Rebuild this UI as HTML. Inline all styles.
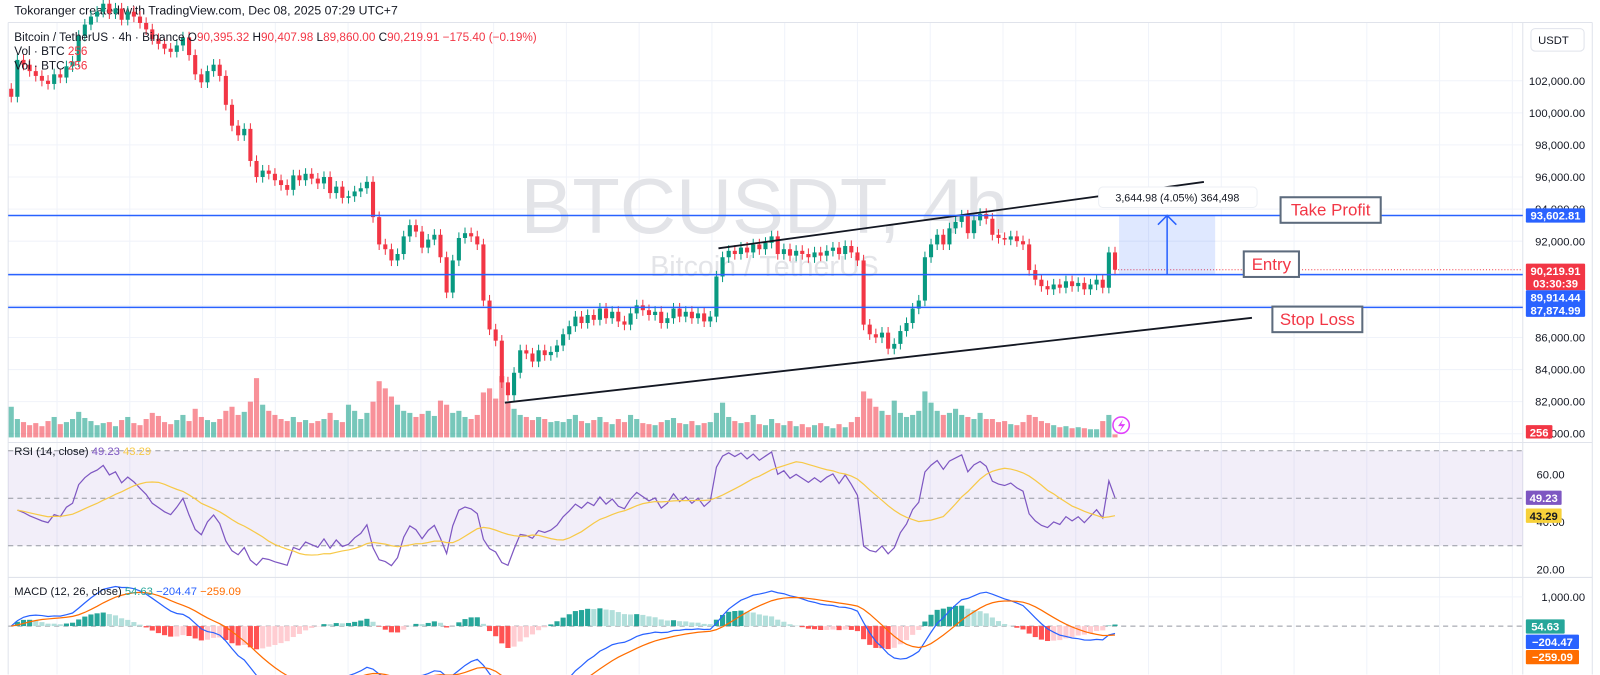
<!DOCTYPE html>
<html><head><meta charset="utf-8"><style>
html,body{margin:0;padding:0;background:#fff;}
svg{display:block;font-family:"Liberation Sans",sans-serif;}
</style></head><body>
<svg id="chart" width="1600" height="675" viewBox="0 0 1600 675" xmlns="http://www.w3.org/2000/svg">
<g id="root" transform="scale(1.022)"></g>
</svg>
<script>
const closes=[
101000,103300,103000,102600,102300,102000,101800,102400,102200,102900,
103200,104800,105500,106000,106300,106800,106200,106500,105800,106300,
106000,105600,105200,104600,104300,104000,103800,104200,104700,103600,
102400,101900,102600,103000,102300,100500,99200,98600,99000,97000,
96000,96400,96200,95800,95500,95200,96100,95800,96200,95900,
95600,96000,95000,95400,94700,94800,95100,95300,95700,93500,
91800,91500,90800,91200,92300,93000,92600,91600,92100,92400,
91000,88800,90800,92200,92500,92300,91800,88300,86500,85800,
83200,82400,83800,85200,85000,84500,85200,84900,85100,85500,
86200,86700,87300,86900,87400,87100,87800,87200,87600,87000,
86800,87500,88000,87700,87400,87600,86900,87200,87800,87300,
87600,87200,87500,87000,87300,89800,91000,91400,91200,91600,
91300,91800,91500,91900,92300,91200,91500,91100,91400,91200,
91000,91300,91100,91400,91600,91200,91700,91300,90800,86800,
86200,86000,86300,85300,85600,86400,86900,87800,88300,91000,
91800,92400,91800,92800,93200,93600,92500,93300,93700,93400,
92400,92200,92100,92300,92000,91800,90200,89600,89200,89000,
89300,89100,89500,89200,89400,89000,89300,89600,89100,91300,
90220];
const volumes=[
3000,1800,1500,1200,1400,1100,1600,2000,1300,1500,
1800,2500,1900,1600,1200,1400,1500,1100,1700,2000,
1400,1200,1800,2400,2100,1500,1300,1700,2200,1600,
2800,2000,1700,1500,1800,2600,3000,2200,2500,3500,
5800,3200,2600,2200,1800,1600,2000,1500,1700,1400,
1600,1800,2400,1700,1500,3200,2600,1800,2400,3500,
5500,4800,4000,3200,2600,2400,2000,2300,2600,2100,
3600,3200,2400,2600,2000,1800,2200,4400,4800,3800,
6000,3500,2800,2200,2000,1700,2000,1800,1500,1600,
1500,1800,2200,1600,1400,1700,2000,1500,1300,1800,
1500,2200,1800,1400,1300,1200,1500,1700,1900,1400,
1300,1600,1200,1400,1500,2400,3400,2000,1600,1400,
1500,2200,1300,1200,1800,1400,1200,1600,1100,1300,
1000,1200,1400,1100,900,1300,1000,1500,2000,4500,
3800,3000,2600,2200,3600,2400,2000,2200,2600,4500,
3400,2600,2200,2400,2800,2200,2000,1800,2400,1800,
1800,1500,1600,1300,1200,1500,2200,2000,1600,1400,
1200,1000,1100,900,1000,900,800,800,1600,2200,
300];
const priceTicks=[102000,100000,98000,96000,94000,92000,86000,84000,82000];
const rsiTicks=[60,40,20];
const rsiLabels=['49.23','43.29'];
const macdLabels=['54.63','−204.47','−259.09'];
const levels=[{name:'take-profit',p:93602.81},{name:'entry',p:89914.44},{name:'stop-loss',p:87874.99}];

const NS='http://www.w3.org/2000/svg';
const root=document.getElementById('root');
function el(tag,attrs,parent,txt){const e=document.createElementNS(NS,tag);for(const k in attrs)e.setAttribute(k,attrs[k]);if(txt!==undefined)e.textContent=txt;(parent||root).appendChild(e);return e;}
const X0=11,DX=6,RIGHT=1490;
const xOf=i=>X0+i*DX;
const yP=p=>79+(102000-p)*0.0157;
const yV=v=>428-v*0.01;
const yR=r=>441+(70-r)*2.325;
const yM=m=>612.6-m*0.0286;
const fmt=v=>v.toLocaleString('en-US',{minimumFractionDigits:2,maximumFractionDigits:2});

for(let k=0;k<21;k++){const gx=55.8+71.2*k;if(gx>RIGHT)break;
 const g=el('line',{x1:gx,y1:22,x2:gx,y2:660,stroke:'#f0f3fa','stroke-width':1});
 }
priceTicks.concat([90000,88000,80000]).forEach(p=>{const g=el('line',{x1:8,y1:yP(p),x2:RIGHT,y2:yP(p),stroke:'#f0f3fa'});});
el('line',{x1:8,y1:22,x2:1558,y2:22,stroke:'#e0e3eb'});
el('line',{x1:8,y1:433,x2:1558,y2:433,stroke:'#e0e3eb'});
el('line',{x1:8,y1:565,x2:1558,y2:565,stroke:'#e0e3eb'});
el('line',{x1:RIGHT,y1:22,x2:RIGHT,y2:660,stroke:'#e0e3eb'});
el('line',{x1:1558,y1:22,x2:1558,y2:660,stroke:'#e0e3eb'});
el('line',{x1:8,y1:22,x2:8,y2:660,stroke:'#e0e3eb'});

const h=el('text',{x:14,y:14,'font-size':12,fill:'#131722'},root,'Tokoranger created with TradingView.com, Dec 08, 2025 07:29 UTC+7');


const wm=el('text',{x:748,y:228,'font-size':76,fill:'#e3e4e8','text-anchor':'middle'},root,'BTCUSDT, 4h');

const wm2=el('text',{x:748,y:270,'font-size':28,fill:'#e3e4e8','text-anchor':'middle'},root,'Bitcoin / TetherUS');


const volG=el('g',{});
volumes.forEach((v,i)=>{const o=i?closes[i-1]:closes[0];const up=closes[i]>=o;
 const r=el('rect',{x:xOf(i)-2.5,y:yV(v),width:5,height:428-yV(v),fill:up?'rgba(8,153,129,0.55)':'rgba(242,54,69,0.55)'},volG);
 });

const cG=el('g',{});
closes.forEach((c,i)=>{const o=i?closes[i-1]:closes[0]+500;const up=c>=o;const col=up?'#089981':'#f23645';
 const hi=Math.max(o,c)+350,lo=Math.min(o,c)-350;
 const w=el('line',{x1:xOf(i),y1:yP(hi),x2:xOf(i),y2:yP(lo),stroke:col,'stroke-width':1},cG);
 
 const top=yP(Math.max(o,c)),bh=Math.max(1,Math.abs(yP(o)-yP(c)));
 const b=el('rect',{x:xOf(i)-2,y:top,width:4,height:bh,fill:col},cG);
 });

const lg=el('text',{x:14,y:40,'font-size':11.5,fill:'#131722','xml:space':'preserve'});
[['Bitcoin / TetherUS · 4h · Binance  O','#131722'],['90,395.32','#f23645'],['  H','#131722'],['90,407.98','#f23645'],['  L','#131722'],['89,860.00','#f23645'],['  C','#131722'],['90,219.91','#f23645'],['  −175.40 (−0.19%)','#f23645']].forEach(([t,c])=>el('tspan',{fill:c},lg,t));
[54,68].forEach(y=>{const t=el('text',{x:14,y:y,'font-size':11.5,fill:'#131722','xml:space':'preserve'});el('tspan',{},t,'Vol · BTC  ');el('tspan',{fill:'#f23645'},t,'256');});

const t1=el('line',{x1:703,y1:243,x2:1178,y2:178,stroke:'#131722','stroke-width':1.8});
const t2=el('line',{x1:494,y1:394,x2:1225,y2:311,stroke:'#131722','stroke-width':1.8});

levels.forEach(l=>{const ln=el('line',{x1:8,y1:yP(l.p),x2:RIGHT,y2:yP(l.p),stroke:'#2962ff','stroke-width':1.5});
 });
const last=closes[closes.length-1];
el('line',{x1:xOf(closes.length-1),y1:yP(last),x2:RIGHT,y2:yP(last),stroke:'#f23645','stroke-dasharray':'1 2','stroke-width':1});

const pb=el('rect',{x:1095,y:yP(93602.81),width:94,height:yP(89914.44)-yP(93602.81),fill:'rgba(41,98,255,0.15)'});
const ar=el('path',{d:`M1142 ${yP(89914.44)} V${yP(93602.81)} M1133 ${yP(93602.81)+9} L1142 ${yP(93602.81)} L1151 ${yP(93602.81)+9}`,stroke:'#2962ff','stroke-width':1.5,fill:'none'});
const mb=el('rect',{x:1075,y:183,width:155,height:20,rx:4,fill:'#fff',stroke:'#eceff4'});
el('text',{x:1152,y:197,'font-size':10.5,fill:'#131722','text-anchor':'middle'},root,'3,644.98 (4.05%) 364,498');

[['take-profit-label','Take Profit',1253,193,98,25],['entry-label','Entry',1217,246,54,25],['stop-loss-label','Stop Loss',1245,300,88,25]].forEach(([n,t,x,y,w,hh])=>{
 const r=el('rect',{x:x,y:y,width:w,height:hh,fill:'#fff',stroke:'#5d6b7d','stroke-width':2});
 el('text',{x:x+w/2,y:y+18,'font-size':16.5,fill:'#f23645','text-anchor':'middle'},root,t);});

const li=el('circle',{cx:1097,cy:416,r:8,fill:'#fff',stroke:'#e040fb','stroke-width':1.5});
el('path',{d:'M1099 410 L1094 417 H1098 L1095 423 L1101 415 H1097 Z',fill:'#e040fb'});

priceTicks.forEach(p=>{const t=el('text',{x:1551,y:yP(p)+4,'font-size':11,fill:'#131722','text-anchor':'end'},root,fmt(p));});
el('text',{x:1551,y:428,'font-size':11,fill:'#131722','text-anchor':'end'},root,'80,000.00');
const ub=el('rect',{x:1498,y:28,width:52,height:22,rx:4,fill:'#fff',stroke:'#e0e3eb'});
el('text',{x:1505,y:43,'font-size':11,fill:'#131722'},root,'USDT');
function tag(x,y,w,hh,fill,lines,name,fc){const r=el('rect',{x:x,y:y,width:w,height:hh,fill:fill,rx:1});
 lines.forEach((s,i)=>el('text',{x:x+w/2,y:y+11+i*12.5,'font-size':11,'font-weight':'bold',fill:fc||'#fff','text-anchor':'middle'},root,s));}
tag(1493,yP(93602.81)-7,58,14,'#2962ff',['93,602.81'],'take-profit-price-tag');
tag(1493,258,58,26,'#f23645',['90,219.91','03:30:39'],'last-price-tag');
tag(1493,284,58,26,'#2962ff',['89,914.44','87,874.99'],'entry-stop-price-tag');
tag(1493,416,26,13,'#f23645',['256'],'volume-tag');

// RSI pane
const rb=el('rect',{x:8,y:yR(70),width:RIGHT-8,height:yR(30)-yR(70),fill:'rgba(126,87,194,0.1)'});
[70,50,30].forEach(v=>el('line',{x1:8,y1:yR(v),x2:RIGHT,y2:yR(v),stroke:'#9598a1','stroke-dasharray':'5 4','stroke-width':1}));
const rsi=[];let ag=0,al=0;
for(let i=1;i<closes.length;i++){const d=closes[i]-closes[i-1];const g=Math.max(d,0),l=Math.max(-d,0);
 if(i===1){ag=450;al=550;}else{ag=(ag*13+g)/14;al=(al*13+l)/14;}
 rsi.push(100-100/(1+ag/al));}
const rsiMa=rsi.map((v,i)=>{const s=rsi.slice(Math.max(0,i-13),i+1);return s.reduce((a,b)=>a+b,0)/s.length;});
const rp=el('polyline',{points:rsi.map((v,i)=>xOf(i+1)+','+yR(v)).join(' '),fill:'none',stroke:'#7e57c2','stroke-width':1.2});
const rm=el('polyline',{points:rsiMa.map((v,i)=>xOf(i+1)+','+yR(v)).join(' '),fill:'none',stroke:'#f7c948','stroke-width':1.2});
const rl=el('text',{x:14,y:445,'font-size':11,fill:'#131722','xml:space':'preserve'});
el('tspan',{},rl,'RSI (14, close)  ');el('tspan',{fill:'#7e57c2'},rl,rsiLabels[0]+'  ');el('tspan',{fill:'#f7c948'},rl,rsiLabels[1]);
rsiTicks.forEach(v=>{const t=el('text',{x:1531,y:yR(v)+4,'font-size':11,fill:'#131722','text-anchor':'end'},root,v.toFixed(2));});
tag(1493,yR(rsi[rsi.length-1])-7,35,14,'#7e57c2',[rsiLabels[0]],'rsi-tag');
tag(1493,yR(rsiMa[rsiMa.length-1])-7,35,14,'#f7d13a',[rsiLabels[1]],'rsi-ma-tag','#131722');

// MACD pane
const ema=(arr,n)=>{const k=2/(n+1);const o=[];arr.forEach((v,i)=>o.push(i?v*k+o[i-1]*(1-k):v));return o;};
const e12=ema(closes,12),e26=ema(closes,26);
const macd=closes.map((c,i)=>e12[i]-e26[i]);
const sig=ema(macd,9);
const hist=macd.map((m,i)=>m-sig[i]);
const cp=el('clipPath',{id:'mclip'});el('rect',{x:8,y:566,width:RIGHT-8,height:95},cp);
const mg=el('g',{'clip-path':'url(#mclip)'});
el('line',{x1:8,y1:yM(0),x2:RIGHT,y2:yM(0),stroke:'#9598a1','stroke-dasharray':'5 4'},mg);
el('line',{x1:8,y1:yM(1000),x2:RIGHT,y2:yM(1000),stroke:'#f0f3fa'},mg);
hist.forEach((v,i)=>{const prev=i?hist[i-1]:0;let col;
 if(v>=0)col=v>=prev?'#26a69a':'#b2dfdb';else col=v<prev?'#ff5252':'#ffcdd2';
 const y0=yM(0),y1=yM(v);
 const r=el('rect',{x:xOf(i)-2.5,y:Math.min(y0,y1),width:5,height:Math.abs(y1-y0),fill:col},mg);
 });
const ml=el('polyline',{points:macd.map((v,i)=>xOf(i)+','+yM(v)).join(' '),fill:'none',stroke:'#2962ff','stroke-width':1.2},mg);
const sl=el('polyline',{points:sig.map((v,i)=>xOf(i)+','+yM(v)).join(' '),fill:'none',stroke:'#ff6d00','stroke-width':1.2},mg);
const mlg=el('text',{x:14,y:582,'font-size':11,fill:'#131722','xml:space':'preserve'});
el('tspan',{},mlg,'MACD (12, 26, close)  ');el('tspan',{fill:'#26a69a'},mlg,macdLabels[0]+'  ');el('tspan',{fill:'#2962ff'},mlg,macdLabels[1]+'  ');el('tspan',{fill:'#ff6d00'},mlg,macdLabels[2]);
const mt=el('text',{x:1551,y:yM(1000)+4,'font-size':11,fill:'#131722','text-anchor':'end'},root,'1,000.00');
tag(1493,606,38,14,'#26a69a',[macdLabels[0]],'histogram-tag');
tag(1493,621,52,14,'#2962ff',[macdLabels[1]],'macd-tag');
tag(1493,636,52,14,'#ff6d00',[macdLabels[2]],'signal-tag');
</script>
</body></html>
